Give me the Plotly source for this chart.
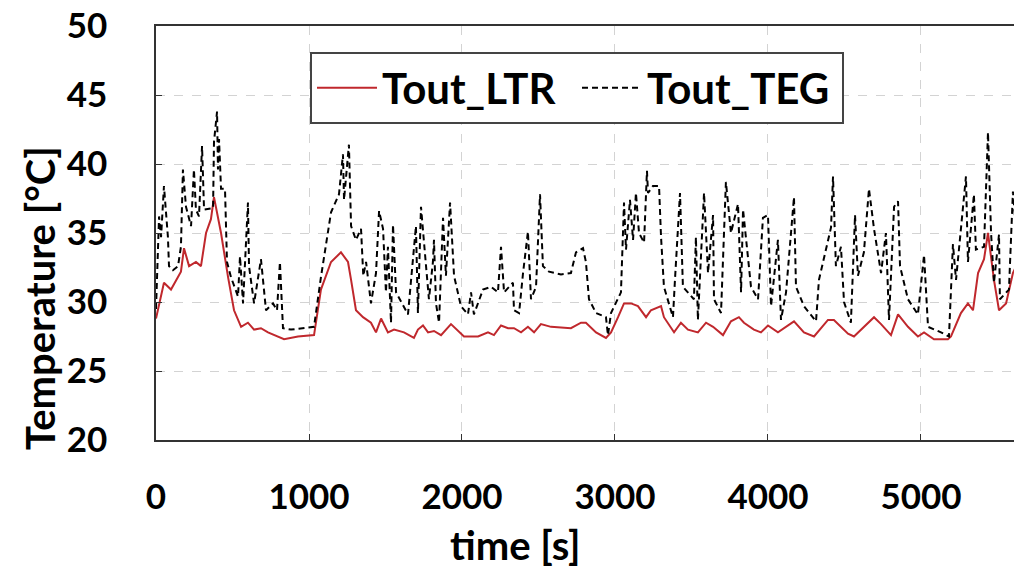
import plotly.graph_objects as go

# Tout_LTR (red solid)
ltr_t = [0, 52, 98, 163, 183, 216, 261, 294, 327, 359, 379, 425, 471, 510, 556, 601, 641, 686, 732,
         797, 837, 928, 1033, 1078, 1144, 1209, 1255, 1275, 1307, 1353, 1405, 1438, 1471, 1516, 1556,
         1621, 1686, 1712, 1745, 1778, 1817, 1863, 1928, 2013, 2105, 2170, 2209, 2255, 2301, 2340,
         2386, 2431, 2471, 2516, 2582, 2712, 2778, 2810, 2876, 2941, 2974, 3020, 3059, 3105, 3150,
         3203, 3235, 3301, 3320, 3386, 3431, 3477, 3542, 3595, 3641, 3706, 3758, 3810, 3843, 3908,
         3954, 4000, 4065, 4170, 4235, 4301, 4392, 4431, 4523, 4562, 4608, 4693, 4739, 4804, 4850,
         4915, 4980, 5020, 5085, 5176, 5196, 5261, 5307, 5340, 5373, 5412, 5438, 5477, 5510, 5556,
         5601, 5614]
ltr_v = [28.8, 31.4, 30.9, 32.2, 33.9, 32.6, 32.9, 32.6, 35.0, 36.0, 37.6, 35.0, 31.8, 29.4, 28.2,
         28.5, 28.0, 28.1, 27.8, 27.5, 27.3, 27.5, 27.6, 30.9, 32.9, 33.6, 32.9, 31.6, 29.4, 28.9,
         28.5, 27.8, 28.8, 27.8, 28.0, 27.8, 27.4, 28.0, 28.3, 27.8, 27.9, 27.6, 28.4, 27.5, 27.5,
         27.8, 27.6, 28.3, 28.1, 28.1, 27.8, 28.2, 27.8, 28.4, 28.2, 28.1, 28.5, 28.5, 27.8, 27.4,
         27.8, 28.9, 29.9, 29.9, 29.7, 28.9, 29.4, 29.7, 28.9, 27.8, 28.5, 28.0, 27.8, 28.5, 28.2,
         27.6, 28.6, 28.9, 28.5, 28.0, 27.8, 28.3, 27.8, 28.6, 27.8, 27.5, 28.7, 28.7, 27.7, 27.5,
         28.0, 28.9, 28.4, 27.6, 29.1, 28.2, 27.5, 27.8, 27.3, 27.3, 27.5, 29.2, 29.9, 29.4, 32.1,
         33.1, 35.0, 31.6, 29.4, 29.9, 32.1, 32.4]

# Tout_TEG (black dashed)
teg_t = [0, 20, 33, 52, 78, 85, 111, 144, 163, 176, 196, 229, 248, 261, 281, 301, 314, 373, 379,
         399, 405, 412, 425, 451, 464, 490, 536, 549, 569, 601, 608, 641, 686, 719, 765, 791, 810,
         830, 882, 967, 1033, 1078, 1144, 1196, 1222, 1229, 1261, 1275, 1307, 1340, 1355, 1373,
         1405, 1438, 1458, 1484, 1503, 1516, 1536, 1549, 1569, 1647, 1699, 1712, 1732, 1765, 1784,
         1810, 1817, 1830, 1850, 1876, 1895, 1922, 1948, 1993, 2039, 2059, 2078, 2137, 2190, 2235,
         2255, 2275, 2333, 2340, 2373, 2399, 2431, 2451, 2484, 2510, 2529, 2569, 2647, 2712, 2745,
         2791, 2810, 2830, 2876, 2941, 2954, 2974, 3039, 3059, 3072, 3098, 3118, 3137, 3157, 3190,
         3209, 3216, 3248, 3288, 3301, 3320, 3379, 3392, 3425, 3444, 3477, 3516, 3529, 3542, 3582,
         3608, 3641, 3647, 3693, 3725, 3758, 3804, 3824, 3837, 3889, 3935, 3967, 4000, 4020, 4065,
         4085, 4118, 4170, 4183, 4235, 4314, 4333, 4412, 4425, 4444, 4477, 4497, 4542, 4569, 4588,
         4627, 4660, 4693, 4739, 4771, 4791, 4824, 4850, 4863, 4915, 4980, 5020, 5046, 5131, 5183,
         5209, 5229, 5294, 5307, 5346, 5359, 5412, 5438, 5458, 5477, 5510, 5516, 5575, 5601, 5614]
teg_v = [29.5, 36.2, 34.7, 38.4, 34.7, 32.6, 32.3, 32.6, 34.0, 39.6, 36.9, 35.5, 39.6, 36.7, 36.2,
         41.3, 36.7, 36.8, 41.6, 43.8, 39.6, 41.8, 38.2, 38.2, 32.9, 31.8, 30.4, 33.3, 29.9, 37.2,
         32.6, 29.9, 33.1, 29.4, 29.9, 29.4, 32.9, 28.1, 28.0, 28.1, 28.2, 31.8, 36.5, 37.8, 40.7,
         37.4, 41.4, 35.5, 34.5, 35.3, 31.9, 32.9, 29.9, 32.1, 36.6, 35.3, 30.7, 34.0, 28.5, 35.6,
         30.7, 29.1, 35.5, 29.2, 36.9, 32.6, 30.2, 32.9, 34.5, 29.9, 28.5, 36.1, 31.9, 37.2, 31.9,
         29.7, 29.1, 30.7, 29.1, 30.9, 31.1, 30.7, 34.0, 30.7, 31.4, 29.4, 29.2, 32.1, 35.1, 30.2,
         31.1, 37.8, 32.6, 32.2, 32.0, 32.1, 33.6, 33.9, 32.9, 30.2, 29.2, 28.9, 27.6, 29.2, 30.7,
         37.2, 33.8, 37.4, 34.5, 37.9, 35.0, 34.3, 39.5, 37.9, 38.4, 38.4, 34.7, 31.1, 28.9, 31.6,
         37.9, 31.1, 30.7, 30.2, 34.7, 28.7, 37.9, 32.1, 36.3, 30.2, 29.2, 38.7, 35.0, 37.1, 30.7,
         36.7, 31.1, 30.2, 36.1, 36.3, 29.7, 34.5, 28.7, 30.7, 37.6, 31.1, 29.7, 28.6, 31.6, 35.4,
         39.1, 32.6, 34.0, 30.0, 28.5, 36.3, 31.9, 33.6, 38.2, 35.3, 32.1, 35.0, 28.7, 36.9, 37.3,
         32.6, 30.2, 29.1, 33.4, 28.2, 27.8, 27.5, 34.2, 31.6, 39.1, 32.9, 37.8, 33.8, 34.0, 42.3,
         35.0, 31.4, 34.9, 30.2, 30.9, 38.0, 36.2]

x_ticks = [0, 1000, 2000, 3000, 4000, 5000]
y_ticks = [20, 25, 30, 35, 40, 45, 50]

FONT = "Lato"

fig = go.Figure()
fig.add_trace(go.Scatter(x=ltr_t, y=ltr_v, mode="lines", name="Tout_LTR",
                         line=dict(color="#c0282d", width=2)))
fig.add_trace(go.Scatter(x=teg_t, y=teg_v, mode="lines", name="Tout_TEG",
                         line=dict(color="black", width=2, dash="6px,4px")))

axis_common = dict(
    showline=True, linecolor="#333333", linewidth=1.5,
    ticks="inside", ticklen=6, tickwidth=1, tickcolor="#333333",
    showgrid=True, gridcolor="#d3d3d3", gridwidth=1, griddash="dash",
    zeroline=False,
    tickfont=dict(family=FONT, size=35, color="black", weight="bold"),
)

fig.update_xaxes(range=[0, 5608], tickvals=x_ticks, ticktext=[str(v) for v in x_ticks],
                 mirror=True, ticklabelstandoff=25, **axis_common)
fig.update_yaxes(range=[20, 50], tickvals=y_ticks, ticktext=[str(v) for v in y_ticks],
                 ticklabelstandoff=40, **axis_common)

fig.add_annotation(text="time [s]", xref="paper", yref="paper", x=(515 - 156) / 858, y=-(545 - 440) / 414,
                   showarrow=False, xanchor="center", yanchor="middle",
                   font=dict(family=FONT, size=40, color="black", weight="bold"))
fig.add_annotation(text="Temperature [°C]", xref="paper", yref="paper", x=-(156 - 40) / 858,
                   y=(440 - 298) / 414, textangle=-90,
                   showarrow=False, xanchor="center", yanchor="middle",
                   font=dict(family=FONT, size=40, color="black", weight="bold"))

fig.update_layout(
    width=1014, height=570,
    margin=dict(l=156, r=0, t=26, b=130, autoexpand=False),
    paper_bgcolor="white", plot_bgcolor="white",
    showlegend=True,
    legend=dict(orientation="h", x=(310 - 156) / 858, y=(440 - 52) / 414,
                xanchor="left", yanchor="top",
                bgcolor="white", bordercolor="#444444", borderwidth=2,
                font=dict(family=FONT, size=42, color="black", weight="bold"),
                itemwidth=60, entrywidth=190, entrywidthmode="pixels", tracegroupgap=0),
)

fig.write_html("out.html")
